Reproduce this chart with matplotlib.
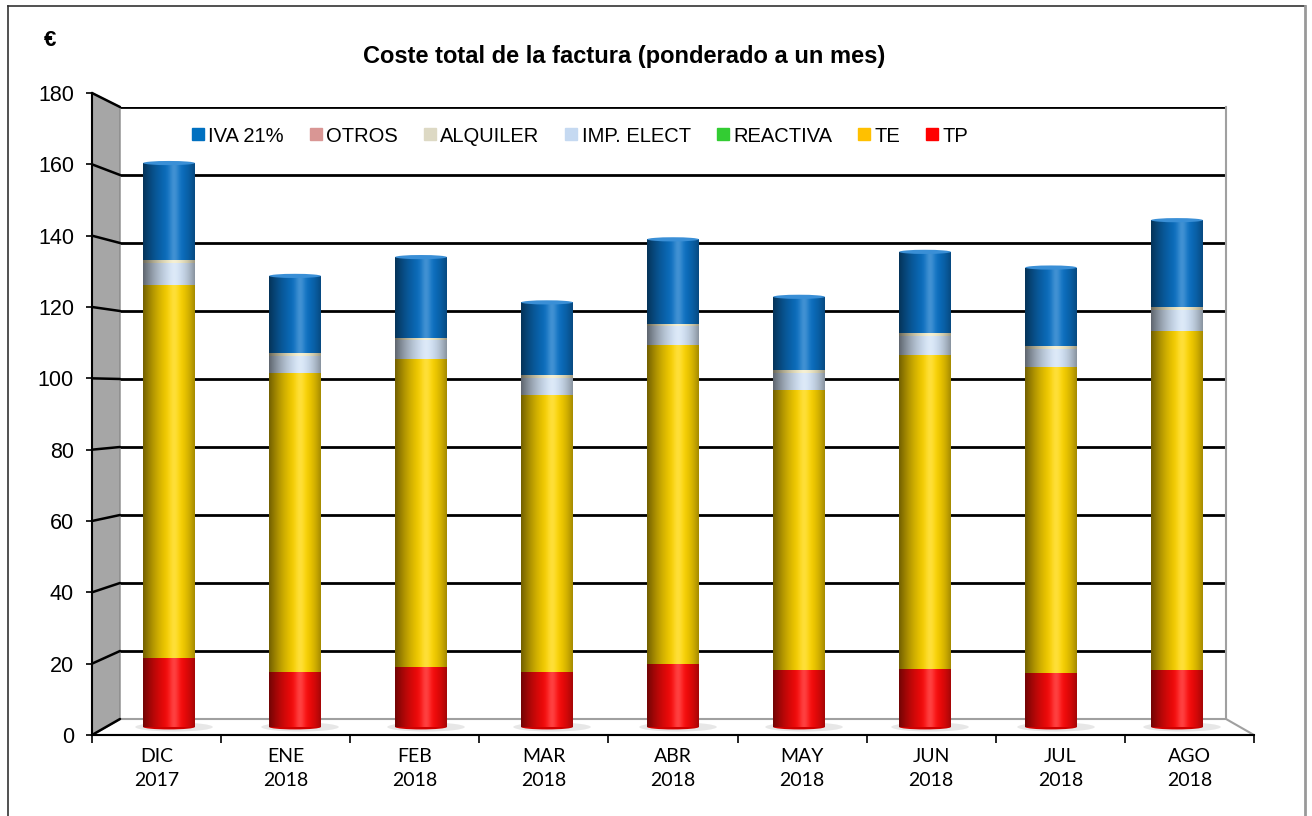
import numpy as np
import matplotlib
matplotlib.use("Agg")
import matplotlib.pyplot as plt
from matplotlib.patches import Polygon, Ellipse, ConnectionPatch
from matplotlib.lines import Line2D
from matplotlib.colors import to_rgb

plt.rcParams['font.family'] = ['Liberation Sans', 'DejaVu Sans']

# datos (euros, ponderado a un mes)
meses = ["DIC\n2017", "ENE\n2018", "FEB\n2018", "MAR\n2018", "ABR\n2018",
         "MAY\n2018", "JUN\n2018", "JUL\n2018", "AGO\n2018"]
tp = [19.8, 15.8, 17.1, 15.8, 18.0, 16.4, 16.6, 15.6, 16.5]
te = [107.1, 85.7, 88.5, 79.6, 91.6, 80.4, 90.2, 87.7, 97.3]
reactiva = [0, 0, 0, 0, 0, 0, 0, 0, 0]
imp_elect = [6.4, 5.0, 5.4, 4.9, 5.4, 4.9, 5.4, 5.3, 5.9]
alquiler = [0.8, 0.8, 0.8, 0.8, 0.8, 0.8, 0.8, 0.8, 0.8]
otros = [0, 0, 0, 0, 0, 0, 0, 0, 0]
iva = [27.8, 22.2, 23.1, 20.8, 24.2, 21.0, 23.4, 22.5, 25.0]

y_ticks = list(range(0, 181, 20))

# orden de apilado (abajo -> arriba): nombre, valores, color barra, color leyenda
series = [
    ("TP", tp, "#FF0A0A", "#FF0000"),
    ("TE", te, "#FFD600", "#FFC000"),
    ("REACTIVA", reactiva, "#33CC33", "#33CC33"),
    ("IMP. ELECT", imp_elect, "#D3E3F6", "#C5D9F1"),
    ("ALQUILER", alquiler, "#F2EBC8", "#DDD9C4"),
    ("OTROS", otros, "#D99694", "#D99694"),
    ("IVA 21%", iva, "#0B72C6", "#0070C0"),
]
legend_order = ["IVA 21%", "OTROS", "ALQUILER", "IMP. ELECT", "REACTIVA", "TE", "TP"]

W, H = 1312, 816
fig = plt.figure(figsize=(W / 100, H / 100), dpi=100)


def fx(px):
    return px / W


def fy(py):
    return 1 - py / H


def shade(color, n=80):
    # perfil de cilindro: oscuro a la izquierda, brillo hacia el centro-derecha
    t = np.linspace(0, 1, n)
    dark = np.where(t < 0.6, 0.55 * (1 - t / 0.6) ** 1.6, 0.35 * ((t - 0.6) / 0.4) ** 2)
    hl = 0.22 * np.exp(-((t - 0.6) / 0.1) ** 2)
    rgb = np.array(to_rgb(color))
    img = rgb[None, :] * (1 - dark[:, None])
    img = img + (1 - img) * hl[:, None]
    return img[None, :, :]


# marco exterior
fig.add_artist(Line2D([fx(8), fx(1305)], [fy(6), fy(6)], color="#333333", lw=1.2, zorder=5))
fig.add_artist(Line2D([fx(8), fx(8)], [fy(6), 0], color="#333333", lw=1.2, zorder=5))
fig.add_artist(Line2D([fx(1305), fx(1305)], [fy(6), 0], color="#999999", lw=2, zorder=5))

# pared del fondo
ax_back = fig.add_axes([fx(120), fy(719), fx(1226) - fx(120), fy(107) - fy(719)], zorder=0)
ax_back.set_ylim(0, 180)
ax_back.set_xlim(0, 1)
ax_back.set_yticks(y_ticks[1:])
ax_back.set_xticks([])
ax_back.tick_params(left=False, labelleft=False)
ax_back.grid(axis="y", color="black", lw=2)
for s in ["left", "top", "bottom"]:
    ax_back.spines[s].set_visible(False)
ax_back.spines["right"].set_color("#A0A0A0")
ax_back.spines["right"].set_linewidth(1.5)

# pared lateral y suelo
wall = Polygon([(fx(92), fy(735)), (fx(92), fy(93)), (fx(120), fy(107)), (fx(120), fy(719))],
               closed=True, transform=fig.transFigure, facecolor="#A6A6A6",
               edgecolor="#888888", lw=1, zorder=1)
fig.add_artist(wall)
floor = Polygon([(fx(92), fy(735)), (fx(1254), fy(735)), (fx(1226), fy(719)), (fx(120), fy(719))],
                closed=True, transform=fig.transFigure, facecolor="white",
                edgecolor="#A0A0A0", lw=1.5, zorder=1)
fig.add_artist(floor)

# eje frontal
ax_front = fig.add_axes([fx(92), fy(735), fx(1254) - fx(92), fy(93) - fy(735)], zorder=3)
ax_front.set_facecolor("none")
ax_front.set_xlim(-0.5, len(meses) - 0.5)
ax_front.set_ylim(0, 180)
ax_front.set_yticks(y_ticks)
ax_front.set_yticklabels([str(v) for v in y_ticks], fontsize=15.5)
ax_front.set_xticks(range(len(meses)))
ax_front.set_xticklabels(meses, fontsize=14, family=["Lato", "DejaVu Sans"], linespacing=1.55)
ax_front.set_xticks(np.arange(-0.5, len(meses), 1), minor=True)
ax_front.tick_params(axis="x", which="major", length=0, pad=9)
ax_front.tick_params(axis="x", which="minor", length=6, width=1.2, direction="out")
ax_front.tick_params(axis="y", length=4, width=1.2, pad=9)
ax_front.spines["top"].set_visible(False)
ax_front.spines["right"].set_visible(False)
ax_front.spines["left"].set_linewidth(1.5)
ax_front.spines["bottom"].set_linewidth(1.5)

# diagonales de la pared lateral
for v in y_ticks:
    con = ConnectionPatch(xyA=(-0.5, v), coordsA=ax_front.transData,
                          xyB=(0, v), coordsB=ax_back.transData,
                          color="black", lw=1.8, zorder=1.5)
    fig.add_artist(con)

# columnas (plano medio)
ax_bar = fig.add_axes([fx(106), fy(727), fx(1240) - fx(106), fy(100) - fy(727)], zorder=2)
ax_bar.set_facecolor("none")
ax_bar.axis("off")
x = np.arange(len(meses))
bw = 0.41
bottom = np.zeros(len(meses))
for name, vals, col, _ in series:
    vals = np.array(vals, dtype=float)
    bars = ax_bar.bar(x, vals, bw, bottom=bottom, color=col, lw=0, zorder=2)
    for rect in bars:
        bx, by = rect.get_x(), rect.get_y()
        w, h = rect.get_width(), rect.get_height()
        if h <= 0:
            continue
        im = ax_bar.imshow(shade(col), extent=(bx, bx + w, by, by + h), aspect="auto",
                           interpolation="bilinear", zorder=2.1)
        im.set_clip_path(rect)
    bottom += vals

for i in x:
    # sombra en el suelo y tapas de los cilindros
    ax_bar.add_patch(Ellipse((i + 0.04, 0), bw * 1.5, 2.6, facecolor="#D8D8D8", lw=0,
                             alpha=0.6, zorder=1.8, clip_on=False))
    ax_bar.add_patch(Ellipse((i, 0), bw, 1.4, facecolor="#D00000", lw=0, zorder=1.9, clip_on=False))
    ax_bar.add_patch(Ellipse((i, bottom[i]), bw, 1.2, facecolor="#3A8FD6", lw=0, zorder=2.2, clip_on=False))
ax_bar.set_xlim(-0.5, len(meses) - 0.5)
ax_bar.set_ylim(0, 180)

# leyenda
colores = {name: lc for name, _, _, lc in series}
handles = [Line2D([], [], marker="s", ls="", markersize=8, color=colores[n]) for n in legend_order]
fig.legend(handles, legend_order, loc="center", bbox_to_anchor=(fx(580), fy(136)), ncol=7,
           frameon=False, fontsize=14.5, handlelength=0.6, handletextpad=0.2,
           columnspacing=1.3)

fig.text(fx(624), fy(56), "Coste total de la factura (ponderado a un mes)",
         ha="center", va="center", fontsize=17, weight="bold")
fig.text(fx(50), fy(40), "€", ha="center", va="center", fontsize=16, weight="bold")

fig.savefig("out.png", dpi=100)
